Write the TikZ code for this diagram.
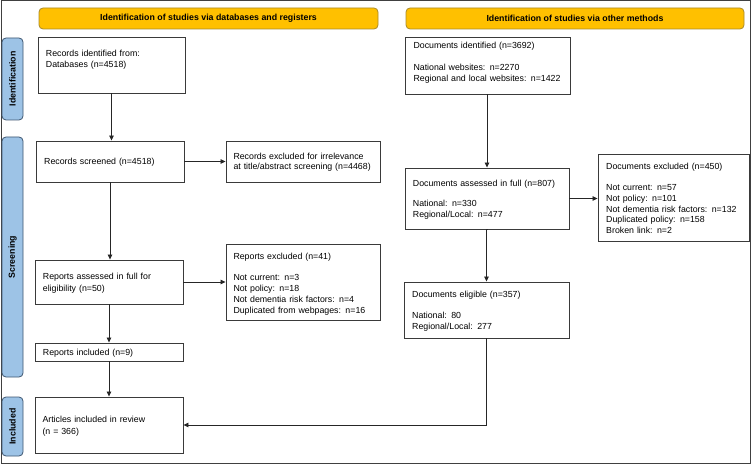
\documentclass[tikz,border=0pt]{standalone}
\usepackage{fontspec}
\setmainfont{Liberation Sans}
\usetikzlibrary{arrows.meta}
\definecolor{hdrfill}{HTML}{FFC000}
\definecolor{hdrline}{HTML}{A88A2A}
\definecolor{sidefill}{HTML}{9DC3E6}
\definecolor{sideline}{HTML}{3E5670}
\definecolor{boxline}{HTML}{3A3A3A}
\tikzset{
  box/.style={draw=boxline, line width=0.9pt, fill=white, inner sep=0pt, minimum width=#1},
  box/.default=148pt,
  txt/.style={anchor=base west, inner sep=0pt, text width=150pt, align=left,
     font=\fontsize{8.8}{10.7}\selectfont},
  hdr/.style={draw=hdrline, line width=0.8pt, fill=hdrfill, rounded corners=4pt,
     minimum height=21pt, inner sep=0pt, font=\fontsize{8.8}{10.7}\selectfont\bfseries},
  side/.style={draw=sideline, line width=0.8pt, fill=sidefill, rounded corners=4pt,
     minimum width=21pt, inner sep=0pt},
  sidetxt/.style={rotate=90, inner sep=0pt, font=\fontsize{8.8}{10.7}\selectfont\bfseries},
  arr/.style={draw=black!85, line width=0.8pt, -{Triangle[length=5pt,width=4.5pt]}},
  ln/.style={draw=black!85, line width=0.8pt}
}
\begin{document}
\begin{tikzpicture}[x=1pt,y=-1pt]
\useasboundingbox (0,0) rectangle (752,465);
\draw[draw=black!75, line width=1pt] (1,1) rectangle (750,463);

% headers
\node[hdr, minimum width=339pt] (h1) at (208.5,18.5) {Identification of studies via databases and registers};
\node[hdr, minimum width=338pt] (h2) at (575,18.5) {Identification of studies via other methods};

% side bars
\node[side, minimum height=82pt] (s1) at (12.5,79) {};
\node[sidetxt] (s1t) at (s1) {Identification};
\node[side, minimum height=240pt] (s2) at (12.5,257) {};
\node[sidetxt] (s2t) at (s2) {Screening};
\node[side, minimum height=59pt] (s3) at (12.5,426.5) {};
\node[sidetxt] (s3t) at (s3) {Included};

% left column boxes
\node[box=147pt, minimum height=56pt] (rid) at (111.5,65) {};
\node[box=148pt, minimum height=41pt] (rsc) at (110,161.5) {};
\node[box=154pt, minimum height=41pt] (rex) at (303,161.5) {};
\node[box=148pt, minimum height=44pt] (ras) at (109,282) {};
\node[box=154pt, minimum height=76pt] (rpx) at (303,282) {};
\node[box=148pt, minimum height=18pt] (rin) at (109,352) {};
\node[box=148pt, minimum height=56pt] (art) at (109,425) {};

% right column boxes
\node[box=165pt, minimum height=57pt] (did) at (487.5,65.5) {};
\node[box=164pt, minimum height=61pt] (das) at (487,198.5) {};
\node[box=151pt, minimum height=87pt] (dex) at (673.5,197.5) {};
\node[box=165pt, minimum height=56pt] (del) at (486.5,310) {};

% texts
\node[txt] (trid) at (45.7,56.5) {Records identified from:\\Databases (n=4518)};
\node[txt] (trsc) at (44,164.5) {Records screened (n=4518)};
\node[txt] (trex) at (233.3,159.2) {Records excluded for irrelevance\\at title/abstract screening (n=4468)};
\node[txt] (tras) at (42.7,279.9) {Reports assessed in full for\\[0.6pt]eligibility (n=50)};
\node[txt] (trpx) at (233.3,259.2) {Reports excluded (n=41)\\[11pt]Not current: n=3\\Not policy: n=18\\Not dementia risk factors: n=4\\Duplicated from webpages: n=16};
\node[txt] (trin) at (42.7,355.5) {Reports included (n=9)};
\node[txt] (tart) at (42.3,422.5) {Articles included in review\\[1.5pt](n = 366)};
\node[txt] (tdid) at (413.3,48.9) {Documents identified (n=3692)\\[11pt]National websites: n=2270\\Regional and local websites: n=1422};
\node[txt] (tdas) at (412.7,186.5) {Documents assessed in full (n=807)\\[9.5pt]National: n=330\\Regional/Local: n=477};
\node[txt] (tdex) at (606,169.2) {Documents excluded (n=450)\\[11pt]Not current: n=57\\Not policy: n=101\\Not dementia risk factors: n=132\\Duplicated policy: n=158\\Broken link: n=2};
\node[txt] (tdel) at (412,297.2) {Documents eligible (n=357)\\[10.7pt]National: 80\\Regional/Local: 277};

% connectors
\draw[arr] (rid.south) -- (rid.south |- rsc.north);
\draw[arr] (rsc.east) -- (rex.west);
\draw[arr] (rsc.south) -- (rsc.south |- ras.north);
\draw[arr] (ras.east) -- (ras.east -| rpx.west);
\draw[arr] (ras.south) -- (rin.north);
\draw[arr] (rin.south) -- (art.north);
\draw[arr] (did.south -| das.north) -- (das.north);
\draw[arr] (das.east) -- (das.east -| dex.west);
\draw[arr] (das.south) -- (das.south -| del.north) -- (del.north);
\draw[arr] (del.south) |- (art.east);
\end{tikzpicture}
\end{document}
